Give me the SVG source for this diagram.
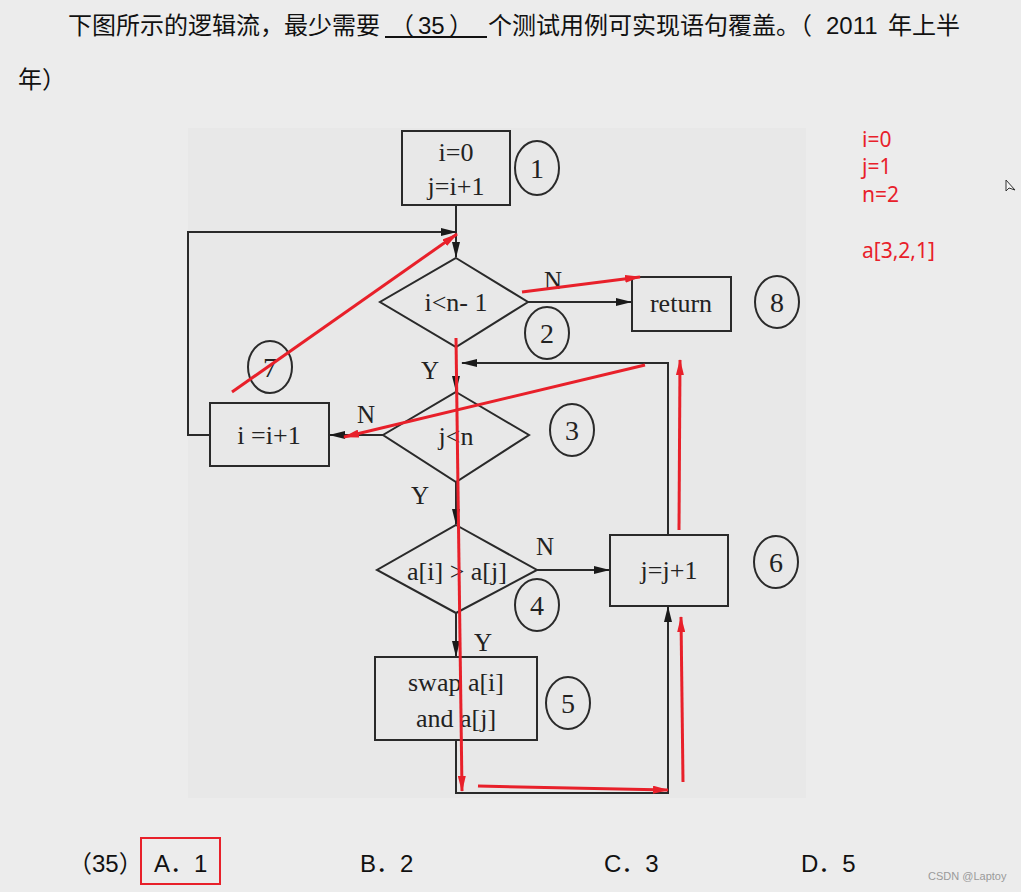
<svg xmlns="http://www.w3.org/2000/svg" width="1021" height="892" viewBox="0 0 1021 892">
<style>
.bg{fill:#ececec}
.box{fill:none;stroke:#2a2a2a;stroke-width:2}
.ln{fill:none;stroke:#2a2a2a;stroke-width:2}
.num{fill:none;stroke:#2a2a2a;stroke-width:2}
.t{font-family:"Liberation Serif",serif;font-size:26px;fill:#222;text-anchor:middle}
.n{font-family:"Liberation Serif",serif;font-size:28px;fill:#222;text-anchor:middle}
.lbl{font-family:"Liberation Serif",serif;font-size:25px;fill:#222;text-anchor:middle}
.hd{font-family:"Liberation Sans","Noto Sans CJK SC",sans-serif;font-size:24px;fill:#111}
.red{fill:none;stroke:#e8202a;stroke-width:3}
.redt{font-family:"Noto Sans","Noto Sans CJK SC",sans-serif;font-size:21px;fill:#e8202a}
</style>
<defs>
<marker id="ab" markerWidth="16" markerHeight="8" refX="15" refY="4" orient="auto" markerUnits="userSpaceOnUse">
<path d="M0,0 L16,4 L0,8 z" fill="#1a1a1a"/>
</marker>
<marker id="ar" markerWidth="16" markerHeight="8" refX="15" refY="4" orient="auto" markerUnits="userSpaceOnUse">
<path d="M0,0 L16,4 L0,8 z" fill="#e8202a"/>
</marker>
</defs>
<rect class="bg" x="0" y="0" width="1021" height="892"/>
<rect x="188" y="128" width="618" height="670" fill="#e8e8e8"/>

<g id="header">
<text class="hd" x="68" y="34">下图所示的逻辑流，最少需要</text>
<text class="hd" x="390" y="34">（</text>
<text class="hd" x="418" y="34">35</text>
<text class="hd" x="449" y="34">）</text>
<line x1="385" y1="37" x2="487" y2="37" stroke="#111" stroke-width="2"/>
<text class="hd" x="488" y="34">个测试用例可实现语句覆盖。（</text>
<text class="hd" x="826" y="34">2011</text>
<text class="hd" x="888" y="34">年上半</text>
<text class="hd" x="18" y="88">年）</text>
</g>

<g id="connectors">
<path class="ln" d="M456,205 V257" marker-end="url(#ab)"/>
<path class="ln" d="M210,435 H188 V232 H456" marker-end="url(#ab)"/>
<path class="ln" d="M528,302 H631" marker-end="url(#ab)"/>
<path class="ln" d="M456,347 V391" marker-end="url(#ab)"/>
<path class="ln" d="M668,535 V363 H462" marker-end="url(#ab)"/>
<path class="ln" d="M383,435 H330" marker-end="url(#ab)"/>
<path class="ln" d="M456,482 V524" marker-end="url(#ab)"/>
<path class="ln" d="M537,570 H609" marker-end="url(#ab)"/>
<path class="ln" d="M456,613 V656" marker-end="url(#ab)"/>
<path class="ln" d="M456,740 V793 H668 V607" marker-end="url(#ab)"/>
</g>

<g id="node1">
<rect class="box" x="402" y="131" width="108" height="74"/>
<text class="t" x="456" y="161">i=0</text>
<text class="t" x="456" y="195">j=i+1</text>
<ellipse class="num" cx="537" cy="168" rx="22" ry="27"/>
<text class="n" x="537" y="178">1</text>
</g>
<g id="node2">
<polygon class="box" points="456,258 528,302 456,347 380,302"/>
<text class="t" x="456" y="311">i&lt;n- 1</text>
<ellipse class="num" cx="547" cy="333" rx="22" ry="26"/>
<text class="n" x="547" y="343">2</text>
<text class="lbl" x="553" y="289">N</text>
<text class="lbl" x="430" y="379">Y</text>
</g>
<g id="node8">
<rect class="box" x="632" y="277" width="99" height="54"/>
<text class="t" x="681" y="312">return</text>
<ellipse class="num" cx="777" cy="302" rx="22" ry="26"/>
<text class="n" x="777" y="312">8</text>
</g>
<g id="node3">
<polygon class="box" points="456,392 529,435 456,482 383,435"/>
<text class="t" x="456" y="445">j&lt;n</text>
<ellipse class="num" cx="572" cy="430" rx="22" ry="26"/>
<text class="n" x="572" y="440">3</text>
<text class="lbl" x="366" y="423">N</text>
<text class="lbl" x="420" y="504">Y</text>
</g>
<g id="node7">
<rect class="box" x="210" y="403" width="119" height="63"/>
<text class="t" x="269" y="444">i =i+1</text>
<ellipse class="num" cx="270" cy="367" rx="22" ry="26"/>
<text class="n" x="270" y="377">7</text>
</g>
<g id="node4">
<polygon class="box" points="456,525 537,570 456,613 377,570"/>
<text class="t" x="457" y="580">a[i] &gt; a[j]</text>
<ellipse class="num" cx="537" cy="605" rx="22" ry="26"/>
<text class="n" x="537" y="615">4</text>
<text class="lbl" x="545" y="555">N</text>
<text class="lbl" x="483" y="651">Y</text>
</g>
<g id="node6">
<rect class="box" x="610" y="535" width="118" height="71"/>
<text class="t" x="669" y="579">j=j+1</text>
<ellipse class="num" cx="776" cy="562" rx="22" ry="26"/>
<text class="n" x="776" y="572">6</text>
</g>
<g id="node5">
<rect class="box" x="375" y="657" width="162" height="83"/>
<text class="t" x="456" y="691">swap a[i]</text>
<text class="t" x="456" y="727">and a[j]</text>
<ellipse class="num" cx="568" cy="703" rx="22" ry="26"/>
<text class="n" x="568" y="713">5</text>
</g>

<g id="annotations">
<line class="red" x1="232" y1="392" x2="457" y2="234" stroke-width="2.5" marker-end="url(#ar)"/>
<line class="red" x1="522" y1="292" x2="640" y2="277" marker-end="url(#ar)"/>
<line class="red" x1="456" y1="338" x2="462" y2="791" stroke-width="2.5" marker-end="url(#ar)"/>
<line class="red" x1="645" y1="365" x2="344" y2="437" marker-end="url(#ar)"/>
<line class="red" x1="478" y1="786" x2="668" y2="790" marker-end="url(#ar)"/>
<line class="red" x1="683" y1="782" x2="681" y2="617" marker-end="url(#ar)"/>
<line class="red" x1="679" y1="530" x2="680" y2="360" marker-end="url(#ar)"/>
<text class="redt" x="862" y="147">i=0</text>
<text class="redt" x="862" y="174">j=1</text>
<text class="redt" x="862" y="202">n=2</text>
<text class="redt" x="862" y="258">a[3,2,1]</text>
</g>

<g id="answers">
<text class="hd" x="68" y="872">（35）</text>
<rect x="141" y="838" width="79" height="46" fill="none" stroke="#e8202a" stroke-width="2"/>
<text class="hd" x="154" y="872">A．1</text>
<text class="hd" x="360" y="872">B．2</text>
<text class="hd" x="604" y="872">C．3</text>
<text class="hd" x="801" y="872">D．5</text>
<text x="928" y="880" font-family="Liberation Sans,sans-serif" font-size="11" fill="#9a9a9a">CSDN @Laptoy</text>
</g>
<path d="M1006,180 L1006,191 L1009,188 L1015,190 Z" fill="#f4f4f4" stroke="#333" stroke-width="1"/>
</svg>
